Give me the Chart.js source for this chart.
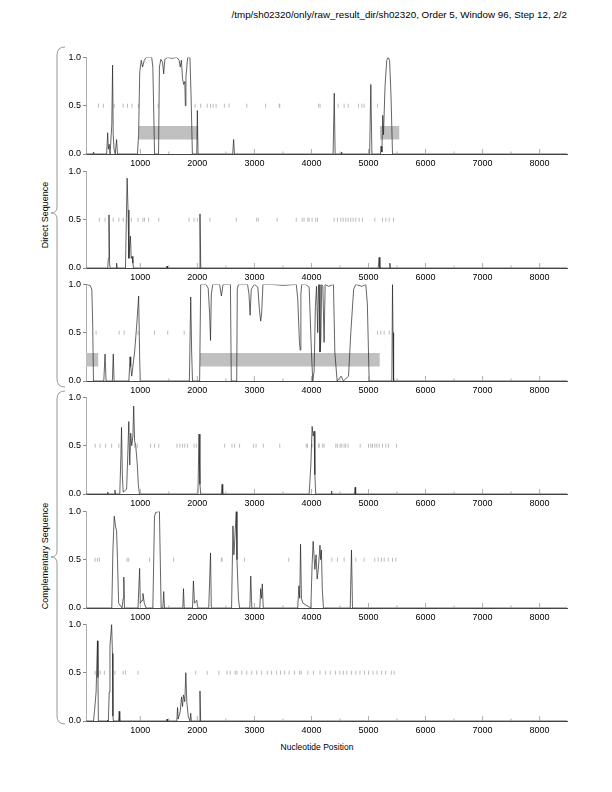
<!DOCTYPE html>
<html>
<head>
<meta charset="utf-8">
<script src="https://cdn.jsdelivr.net/npm/chart.js@4/dist/chart.umd.min.js"></script>
<style>
  body { margin: 0; background: #fff; width: 612px; height: 792px; position: relative; overflow: hidden; font-family: "Liberation Sans", Arial, sans-serif; }
  canvas.panel { position: absolute; left: 0; }
  .txt { position: absolute; font-size: 9px; color: #000; white-space: nowrap; }
  .rot { transform: translate(-50%, -50%) rotate(-90deg); }
</style>
</head>
<body>
<div class="txt" style="right:45px; top:9px; font-size:9.8px;">/tmp/sh02320/only/raw_result_dir/sh02320, Order 5, Window 96, Step 12, 2/2</div>
<div class="txt" style="left:317px; top:742px; transform:translateX(-50%); font-size:8.5px;">Nucleotide Position</div>
<div class="txt rot" style="left:45px; top:215px;">Direct Sequence</div>
<div class="txt rot" style="left:45px; top:556px;">Complementary Sequence</div>
<svg width="612" height="792" style="position:absolute;left:0;top:0;">
  <path d="M65,47 Q57,47 57,55 L57,207 Q57,213 51,213 Q57,213 57,219 L57,379 Q57,387 65,387" fill="none" stroke="#999" stroke-width="1"/>
  <path d="M65,391 Q57,391 57,399 L57,551 Q57,557 51,557 Q57,557 57,563 L57,716 Q57,724 65,724" fill="none" stroke="#999" stroke-width="1"/>
</svg>
<canvas class="panel" id="p1" width="612" height="122"></canvas>
<canvas class="panel" id="p2" width="612" height="122"></canvas>
<canvas class="panel" id="p3" width="612" height="122"></canvas>
<canvas class="panel" id="p4" width="612" height="122"></canvas>
<canvas class="panel" id="p5" width="612" height="122"></canvas>
<canvas class="panel" id="p6" width="612" height="122"></canvas>
<script>
// sequence range and axis ticks
const xMin = 48;
const xMax = 8480;
const xTicks = [1000, 2000, 3000, 4000, 5000, 6000, 7000, 8000];
const xMinor = [1500, 2500, 3500, 4500, 5500, 6500, 7500];
const yTicks = [0, 0.5, 1];

// coding probability, [position, value]
const dir1 = [[48,0],[170,0],[180,0.02],[190,0],[410,0],[428,0.22],[440,0.05],[455,0.1],[470,0],[500,0.3],[514,0.92],[525,0.2],[540,0.05],[560,0],[584,0.15],[600,0],[950,0],[970,0.2],[990,0.85],[1017,0.97],[1040,0.9],[1070,0.97],[1104,1],[1200,1],[1220,0.9],[1250,0],[1320,0],[1335,0.9],[1360,0.98],[1390,0.95],[1410,0.83],[1430,0.98],[1480,1],[1550,0.99],[1640,1],[1680,0.97],[1700,0.9],[1720,0.97],[1740,0.78],[1760,0.72],[1780,0.75],[1790,0.5],[1800,0.8],[1830,1],[1870,1],[1890,0.6],[1913,0],[1990,0],[2000,0.45],[2012,0],[2620,0],[2636,0.15],[2650,0],[4380,0],[4400,0.63],[4415,0],[4520,0],[4526,0.02],[4535,0],[5020,0],[5041,0.72],[5060,0],[5210,0],[5220,0.08],[5235,0.02],[5250,0.4],[5263,0.2],[5290,0.7],[5320,0.97],[5345,1],[5370,0.97],[5395,0.6],[5421,0],[8480,0]];
const dir2 = [[48,0],[430,0],[440,0.1],[451,0.55],[462,0.05],[470,0],[575,0],[584,0.05],[595,0],[740,0],[755,0.5],[769,0.93],[785,0.6],[800,0.1],[815,0.25],[827,0.33],[840,0.1],[855,0.12],[870,0.05],[880,0],[1460,0],[1468,0.02],[1476,0],[2030,0],[2046,0.56],[2060,0],[5170,0],[5187,0.11],[5200,0],[5365,0],[5374,0.05],[5385,0],[8480,0]];
const dir3 = [[48,1],[64,1],[120,0.99],[150,0.95],[165,0.6],[179,0],[360,0],[382,0.28],[400,0],[510,0],[526,0.28],[540,0],[800,0],[820,0.25],[832,0.15],[850,0.05],[900,0.3],[940,0.6],[971,0.88],[990,0.2],[1000,0],[1860,0],[1884,0.87],[1900,0.3],[1915,0],[2040,0],[2058,1],[2150,1],[2190,0.96],[2215,0.7],[2231,0.42],[2245,0.9],[2270,1],[2390,1],[2422,0.88],[2450,1],[2580,1],[2595,0],[2690,0],[2700,0.95],[2720,1],[2880,1],[2905,0.9],[2925,0.68],[2945,0.95],[3000,1],[3060,0.97],[3087,0.75],[3110,0.62],[3127,0.7],[3150,1],[3300,1],[3500,0.99],[3734,1],[3760,0.85],[3790,0.4],[3803,0.32],[3815,0.9],[3830,1],[3900,1],[3960,0.97],[4000,0.3],[4023,0],[4047,0.1],[4069,0.77],[4090,0.98],[4110,0.5],[4125,1],[4135,1],[4150,0.3],[4163,0.4],[4180,1],[4200,0.98],[4222,0.4],[4240,1],[4300,0.98],[4386,1],[4410,0.3],[4450,0],[4520,0.05],[4560,0],[4650,0.05],[4690,0.5],[4740,0.95],[4778,1],[4880,0.98],[4953,1],[4980,0.8],[5012,0],[5410,0],[5421,1],[5430,0.5],[5440,0],[8480,0]];
const com1 = [[48,0],[420,0],[428,0.02],[440,0],[545,0],[555,0.04],[565,0],[640,0],[660,0.4],[671,0.69],[685,0.2],[700,0.02],[760,0.05],[780,0.4],[798,0.75],[815,0.3],[832,0.63],[850,0.5],[870,0.6],[884,0.91],[900,0.55],[920,0.5],[948,0.3],[965,0.1],[985,0],[2010,0],[2029,0.62],[2045,0.1],[2060,0],[2420,0],[2434,0.1],[2445,0],[3960,0],[3990,0.3],[4012,0.7],[4030,0.6],[4047,0.65],[4060,0.2],[4075,0],[4345,0],[4351,0.03],[4360,0],[4755,0],[4766,0.07],[4775,0],[8480,0]];
const com2 = [[48,0],[500,0],[520,0.6],[543,0.95],[565,0.85],[584,0.8],[600,0.5],[620,0.05],[680,0],[700,0.1],[711,0.32],[722,0],[960,0],[988,0.41],[1000,0.05],[1030,0.08],[1046,0.15],[1070,0.05],[1100,0],[1220,0],[1249,0.95],[1270,0.99],[1335,1],[1350,0.5],[1365,0],[1395,0],[1410,0.17],[1425,0],[1745,0],[1757,0.2],[1770,0],[1915,0],[1931,0.28],[1950,0.05],[1990,0.08],[2010,0],[2200,0],[2231,0.57],[2245,0],[2600,0],[2624,0.85],[2640,0.55],[2655,0.7],[2682,1],[2695,0.5],[2720,0.1],[2740,0],[2920,0],[2936,0.33],[2955,0],[3095,0],[3110,0.2],[3125,0.1],[3139,0.25],[3155,0],[3760,0],[3780,0.23],[3795,0.1],[3809,0.66],[3825,0.1],[3850,0.05],[3990,0],[4012,0.45],[4030,0.69],[4060,0.4],[4081,0.55],[4100,0.3],[4120,0.4],[4150,0.65],[4162,0.5],[4175,0.6],[4190,0.2],[4210,0],[4680,0],[4702,0.6],[4720,0],[8480,0]];
const com3 = [[48,0],[180,0],[197,0.1],[225,0.3],[249,0.83],[258,0.45],[265,0],[420,0],[428,0.01],[440,0],[455,0.3],[468,0.78],[497,1],[512,0.7],[520,0.05],[530,0],[620,0],[630,0.1],[640,0],[1460,0],[1468,0.02],[1480,0],[1640,0],[1653,0.14],[1665,0.02],[1700,0.1],[1723,0.25],[1740,0.15],[1757,0.27],[1780,0.2],[1798,0.5],[1815,0.2],[1840,0.05],[1870,0],[1884,0.08],[1895,0],[2035,0],[2046,0.31],[2058,0],[8480,0]];

// stop codon positions (drawn at 0.5)
const stop1 = [266,353,543,699,775,855,965,1312,1960,2058,2173,2231,2277,2329,2474,2555,2867,3197,3434,3445,4127,4152,4468,4573,4643,4825,4883,4924,5158];
const stop2 = [283,382,526,624,699,844,960,1046,1075,1145,1324,1855,1942,2000,2220,2682,3040,3069,3399,3734,3838,3871,3936,3959,4012,4076,4105,4398,4456,4515,4556,4602,4643,4690,4731,4778,4836,4895,5111,5246,5304,5363,5439];
const stop3 = [225,630,717,960,1249,1480,1769,5158,5216,5275,5363];
const stop4 = [208,295,393,497,624,902,948,1179,1249,1324,1642,1694,1740,1780,1827,1942,1983,2480,2607,2653,2740,2983,3029,3156,3445,3908,3930,4012,4127,4135,4197,4222,4427,4456,4503,4532,4573,4602,4643,4854,5000,5041,5070,5111,5146,5187,5246,5304,5351,5491];
const stop5 = [208,249,283,769,798,1162,1584,2422,2434,2827,3601,4357,4456,4573,4778,4924,5111,5170,5228,5275,5345,5421,5480];
const stop6 = [208,295,370,555,699,740,960,1971,2173,2376,2520,2578,2665,2694,2780,2867,2954,3040,3127,3225,3301,3387,3457,3532,3607,3705,3792,3821,3936,4035,4150,4250,4330,4420,4500,4560,4620,4700,4780,4850,4930,5000,5080,5150,5230,5300,5400,5450];

// open reading frames [start, end]
const orf1 = [[970, 2012], [5199, 5544]];
const orf2 = [];
const orf3 = [[48, 266], [2046, 5199]];
const orf4 = [];
const orf5 = [];
const orf6 = [];

const panelTops = [55, 169, 282, 395, 509, 622];

const innerTicks = {
  id: 'innerTicks',
  afterDraw(chart) {
    const ctx = chart.ctx;
    const x = chart.scales.x;
    const b = chart.chartArea.bottom;
    ctx.save();
    ctx.strokeStyle = '#999';
    ctx.lineWidth = 0.8;
    ctx.beginPath();
    xTicks.forEach(v => { const p = x.getPixelForValue(v); ctx.moveTo(p, b); ctx.lineTo(p, b - 5); });
    xMinor.forEach(v => { const p = x.getPixelForValue(v); ctx.moveTo(p, b); ctx.lineTo(p, b - 2.5); });
    ctx.stroke();
    ctx.restore();
  }
};

function makePanel(i, line, stops, orfs) {
  const canvas = document.getElementById('p' + (i + 1));
  canvas.style.top = (panelTops[i] - 5) + 'px';
  const datasets = [{
    type: 'line',
    data: line,
    borderColor: '#222',
    borderWidth: 0.7,
    pointRadius: 0,
    tension: 0,
    order: 1
  }, {
    type: 'scatter',
    data: stops.map(s => ({ x: s, y: 0.5 })),
    pointStyle: 'line',
    rotation: 90,
    radius: 2,
    borderColor: '#aaa',
    borderWidth: 0.8,
    order: 2
  }];
  orfs.forEach(o => {
    datasets.push({
      type: 'line',
      data: [[o[0], 0.29], [o[1], 0.29]],
      borderWidth: 0,
      pointRadius: 0,
      backgroundColor: '#c0c0c0',
      fill: { value: 0.15 },
      order: 3
    });
  });
  new Chart(canvas, {
    data: { datasets },
    options: {
      responsive: false,
      animation: false,
      events: [],
      layout: { padding: { left: 50, right: 45, top: 5, bottom: 0 } },
      plugins: { legend: { display: false }, tooltip: { enabled: false } },
      scales: {
        x: {
          type: 'linear',
          min: xMin,
          max: xMax,
          afterBuildTicks: s => { s.ticks = xTicks.map(v => ({ value: v })); },
          afterFit: s => { s.height = 18; },
          grid: { display: true, drawOnChartArea: false, drawTicks: false },
          border: { display: true, color: '#444', width: 1 },
          ticks: { padding: 4, color: '#000', font: { family: 'Liberation Sans', size: 9 }, callback: v => String(v), maxRotation: 0 }
        },
        y: {
          min: 0,
          max: 1,
          afterBuildTicks: s => { s.ticks = yTicks.map(v => ({ value: v })); },
          afterFit: s => { s.width = 36; },
          grid: { display: true, drawOnChartArea: false, drawTicks: true, tickLength: 3, color: '#888' },
          border: { display: true, color: '#999', width: 0.8 },
          ticks: { padding: 2, color: '#000', font: { family: 'Liberation Sans', size: 9 }, callback: v => v.toFixed(1) }
        }
      }
    },
    plugins: [innerTicks]
  });
}

makePanel(0, dir1, stop1, orf1);
makePanel(1, dir2, stop2, orf2);
makePanel(2, dir3, stop3, orf3);
makePanel(3, com1, stop4, orf4);
makePanel(4, com2, stop5, orf5);
makePanel(5, com3, stop6, orf6);
</script>
</body>
</html>
